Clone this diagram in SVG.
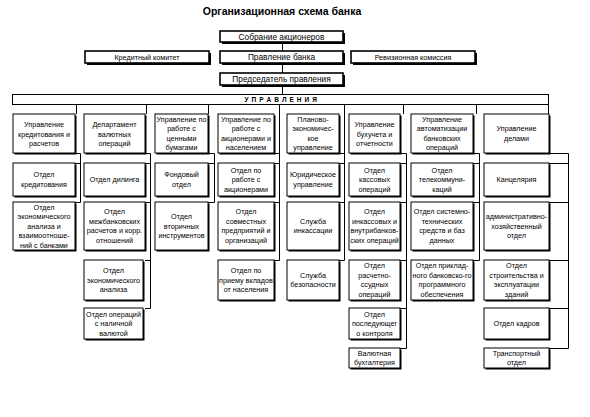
<svg xmlns="http://www.w3.org/2000/svg" width="590" height="417" viewBox="0 0 590 417">
<style>
text{font-family:"Liberation Sans",Arial,sans-serif;fill:#000;text-anchor:middle}
.t{font-size:10.5px;font-weight:bold}
.tb{font-size:8.3px}
.ts{font-size:7.2px}
.c{font-size:7.2px}
.u{font-size:6.5px;font-weight:bold;letter-spacing:0.6px}
.sh{fill:#000}
.bx{fill:#fff;stroke:#000;stroke-width:1}
.tbx{fill:#fff;stroke:#000;stroke-width:1.6}
.ln{fill:none;stroke:#000;stroke-width:1}
</style>
<rect width="590" height="417" fill="#fff"/>
<text class="t" x="282" y="15">Организационная схема банка</text>

<g id="connectors">
<path class="ln" d="M282.5 42 V51 M282.5 63 V73 M282.5 85 V94
M76.5 104 V114 M146.5 104 V114 M208.5 104 V114 M403.5 104 V114 M476.5 104 V114 M548.5 104 V114
M75 153.5 H80.5 V202.5 H75 M75 163.5 H80.5
M145 153.5 H150.5 V308.5 H145 M145 163.5 H150.5 M145 202.5 H150.5 M145 260.5 H150.5
M208 153.5 H214.5 V202.5 H208 M208 163.5 H214.5
M279.5 104 V260.5 H274 M274 153.5 H279.5 M274 163.5 H279.5 M274 202.5 H279.5
M344.5 104 V260.5 H339 M339 153.5 H344.5 M339 163.5 H344.5 M339 202.5 H344.5
M400 153.5 H406.5 V348.5 H400 M400 163.5 H406.5 M400 202.5 H406.5 M400 260.5 H406.5 M400 308.5 H406.5
M473 153.5 H479.5 V260.5 H473 M473 163.5 H479.5 M473 202.5 H479.5
M549 153.5 H568.5 V348.5 H549 M549 163.5 H568.5 M549 202.5 H568.5 M549 260.5 H568.5 M549 308.5 H568.5"/>
</g>

<g id="sobranie"><rect class="sh" x="222" y="33" width="123" height="11"/><rect class="tbx" x="220" y="31" width="123" height="11"/><text class="tb" x="281.5" y="39.8">Собрание акционеров</text></g>
<g id="kredkom"><rect class="sh" x="87" y="53" width="124" height="12"/><rect class="tbx" x="85" y="51" width="124" height="12"/><text class="ts" x="147" y="59.6">Кредитный комитет</text></g>
<g id="pravlenie"><rect class="sh" x="222" y="53" width="123" height="12"/><rect class="tbx" x="220" y="51" width="123" height="12"/><text class="tb" x="281.5" y="60.3">Правление банка</text></g>
<g id="revkom"><rect class="sh" x="353" y="53" width="124" height="12"/><rect class="tbx" x="351" y="51" width="124" height="12"/><text class="ts" x="413" y="59.6">Ревизионная комиссия</text></g>
<g id="predsedatel"><rect class="sh" x="222" y="75" width="123" height="12"/><rect class="tbx" x="220" y="73" width="123" height="12"/><text class="tb" x="281.5" y="82.3">Председатель правления</text></g>
<g id="upravleniya"><rect class="bx" x="12.5" y="94.5" width="536" height="10"/><text class="u" x="281" y="102">У П Р А В Л Е Н И Я</text></g>

<!-- Column A -->
<g id="a1"><rect class="sh" x="14.5" y="115.5" width="62" height="39"/><rect class="bx" x="13" y="114" width="62" height="39"/><text class="c"><tspan x="44" y="127">Управление</tspan><tspan x="44" y="136.5">кредитования и</tspan><tspan x="44" y="146">расчетов</tspan></text></g>
<g id="a2"><rect class="sh" x="14.5" y="164.5" width="62" height="33"/><rect class="bx" x="13" y="163" width="62" height="33"/><text class="c"><tspan x="44" y="177.3">Отдел</tspan><tspan x="44" y="186.8">кредитования</tspan></text></g>
<g id="a3"><rect class="sh" x="14.5" y="203.5" width="62" height="48"/><rect class="bx" x="13" y="202" width="62" height="48"/><text class="c"><tspan x="44" y="209.5">Отдел</tspan><tspan x="44" y="219">экономического</tspan><tspan x="44" y="228.5">анализа и</tspan><tspan x="44" y="238">взаимоотноше-</tspan><tspan x="44" y="247.5">ний с банками</tspan></text></g>

<!-- Column B -->
<g id="b1"><rect class="sh" x="85.5" y="115.5" width="61" height="39"/><rect class="bx" x="84" y="114" width="61" height="39"/><text class="c"><tspan x="114.5" y="127">Департамент</tspan><tspan x="114.5" y="136.5">валютных</tspan><tspan x="114.5" y="146">операций</tspan></text></g>
<g id="b2"><rect class="sh" x="85.5" y="164.5" width="61" height="33"/><rect class="bx" x="84" y="163" width="61" height="33"/><text class="c"><tspan x="114.5" y="182">Отдел дилинга</tspan></text></g>
<g id="b3"><rect class="sh" x="85.5" y="203.5" width="61" height="48"/><rect class="bx" x="84" y="202" width="61" height="48"/><text class="c"><tspan x="114.5" y="214.3">Отдел</tspan><tspan x="114.5" y="223.8">межбанковских</tspan><tspan x="114.5" y="233.3">расчетов и корр.</tspan><tspan x="114.5" y="242.8">отношений</tspan></text></g>
<g id="b4"><rect class="sh" x="85.5" y="261.5" width="59" height="40"/><rect class="bx" x="84" y="260" width="59" height="40"/><text class="c"><tspan x="113.5" y="273">Отдел</tspan><tspan x="113.5" y="282.5">экономического</tspan><tspan x="113.5" y="292">анализа</tspan></text></g>
<g id="b5"><rect class="sh" x="85.5" y="309.5" width="59" height="31"/><rect class="bx" x="84" y="308" width="59" height="31"/><text class="c"><tspan x="113.5" y="316.5">Отдел операций</tspan><tspan x="113.5" y="326">с наличной</tspan><tspan x="113.5" y="335.5">валютой</tspan></text></g>

<!-- Column C -->
<g id="c1"><rect class="sh" x="156.5" y="115.5" width="53" height="39"/><rect class="bx" x="155" y="114" width="53" height="39"/><text class="c"><tspan x="181.5" y="121.8">Управление по</tspan><tspan x="181.5" y="131.3">работе с</tspan><tspan x="181.5" y="140.8">ценными</tspan><tspan x="181.5" y="150.3">бумагами</tspan></text></g>
<g id="c2"><rect class="sh" x="156.5" y="164.5" width="53" height="33"/><rect class="bx" x="155" y="163" width="53" height="33"/><text class="c"><tspan x="181.5" y="177.3">Фондовый</tspan><tspan x="181.5" y="186.8">отдел</tspan></text></g>
<g id="c3"><rect class="sh" x="156.5" y="203.5" width="53" height="48"/><rect class="bx" x="155" y="202" width="53" height="48"/><text class="c"><tspan x="181.5" y="219">Отдел</tspan><tspan x="181.5" y="228.5">вторичных</tspan><tspan x="181.5" y="238">инструментов</tspan></text></g>

<!-- Column D -->
<g id="d1"><rect class="sh" x="219.5" y="115.5" width="56" height="39"/><rect class="bx" x="218" y="114" width="56" height="39"/><text class="c"><tspan x="246" y="121.8">Управление по</tspan><tspan x="246" y="131.3">работе с</tspan><tspan x="246" y="140.8">акционерами и</tspan><tspan x="246" y="150.3">населением</tspan></text></g>
<g id="d2"><rect class="sh" x="219.5" y="164.5" width="56" height="33"/><rect class="bx" x="218" y="163" width="56" height="33"/><text class="c"><tspan x="246" y="172.5">Отдел по</tspan><tspan x="246" y="182">работе с</tspan><tspan x="246" y="191.5">акционерами</tspan></text></g>
<g id="d3"><rect class="sh" x="219.5" y="203.5" width="56" height="48"/><rect class="bx" x="218" y="202" width="56" height="48"/><text class="c"><tspan x="246" y="214.3">Отдел</tspan><tspan x="246" y="223.8">совместных</tspan><tspan x="246" y="233.3">предприятий и</tspan><tspan x="246" y="242.8">организаций</tspan></text></g>
<g id="d4"><rect class="sh" x="219.5" y="261.5" width="56" height="40"/><rect class="bx" x="218" y="260" width="56" height="40"/><text class="c"><tspan x="246" y="273">Отдел по</tspan><tspan x="246" y="282.5">приему вкладов</tspan><tspan x="246" y="292">от населения</tspan></text></g>

<!-- Column E -->
<g id="e1"><rect class="sh" x="288.5" y="115.5" width="52" height="39"/><rect class="bx" x="287" y="114" width="52" height="39"/><text class="c"><tspan x="313" y="121.8">Планово-</tspan><tspan x="313" y="131.3">экономичес-</tspan><tspan x="313" y="140.8">кое</tspan><tspan x="313" y="150.3">управление</tspan></text></g>
<g id="e2"><rect class="sh" x="288.5" y="164.5" width="52" height="33"/><rect class="bx" x="287" y="163" width="52" height="33"/><text class="c"><tspan x="313" y="177.3">Юридическое</tspan><tspan x="313" y="186.8">управление</tspan></text></g>
<g id="e3"><rect class="sh" x="288.5" y="203.5" width="52" height="48"/><rect class="bx" x="287" y="202" width="52" height="48"/><text class="c"><tspan x="313" y="223.8">Служба</tspan><tspan x="313" y="233.3">инкассации</tspan></text></g>
<g id="e4"><rect class="sh" x="288.5" y="261.5" width="52" height="40"/><rect class="bx" x="287" y="260" width="52" height="40"/><text class="c"><tspan x="313" y="277.8">Служба</tspan><tspan x="313" y="287.3">безопасности</tspan></text></g>

<!-- Column F -->
<g id="f1"><rect class="sh" x="350.5" y="115.5" width="51" height="39"/><rect class="bx" x="349" y="114" width="51" height="39"/><text class="c"><tspan x="374.5" y="127">Управление</tspan><tspan x="374.5" y="136.5">бухучета и</tspan><tspan x="374.5" y="146">отчетности</tspan></text></g>
<g id="f2"><rect class="sh" x="350.5" y="164.5" width="51" height="33"/><rect class="bx" x="349" y="163" width="51" height="33"/><text class="c"><tspan x="374.5" y="172.5">Отдел</tspan><tspan x="374.5" y="182">кассовых</tspan><tspan x="374.5" y="191.5">операций</tspan></text></g>
<g id="f3"><rect class="sh" x="350.5" y="203.5" width="51" height="48"/><rect class="bx" x="349" y="202" width="51" height="48"/><text class="c"><tspan x="374.5" y="214.3">Отдел</tspan><tspan x="374.5" y="223.8">инкассовых и</tspan><tspan x="374.5" y="233.3">внутрибанков-</tspan><tspan x="374.5" y="242.8">ских операций</tspan></text></g>
<g id="f4"><rect class="sh" x="350.5" y="261.5" width="51" height="40"/><rect class="bx" x="349" y="260" width="51" height="40"/><text class="c"><tspan x="374.5" y="268.3">Отдел</tspan><tspan x="374.5" y="277.8">расчетно-</tspan><tspan x="374.5" y="287.3">ссудных</tspan><tspan x="374.5" y="296.8">операций</tspan></text></g>
<g id="f5"><rect class="sh" x="350.5" y="309.5" width="51" height="31"/><rect class="bx" x="349" y="308" width="51" height="31"/><text class="c"><tspan x="374.5" y="316.5">Отдел</tspan><tspan x="374.5" y="326">последующег</tspan><tspan x="374.5" y="335.5">о контроля</tspan></text></g>
<g id="f6"><rect class="sh" x="350.5" y="349.5" width="51" height="20"/><rect class="bx" x="349" y="348" width="51" height="20"/><text class="c"><tspan x="374.5" y="355.8">Валютная</tspan><tspan x="374.5" y="365.3">бухгалтерия</tspan></text></g>

<!-- Column G -->
<g id="g1"><rect class="sh" x="412.5" y="115.5" width="62" height="39"/><rect class="bx" x="411" y="114" width="62" height="39"/><text class="c"><tspan x="442" y="121.8">Управление</tspan><tspan x="442" y="131.3">автоматизации</tspan><tspan x="442" y="140.8">банковских</tspan><tspan x="442" y="150.3">операций</tspan></text></g>
<g id="g2"><rect class="sh" x="412.5" y="164.5" width="62" height="33"/><rect class="bx" x="411" y="163" width="62" height="33"/><text class="c"><tspan x="442" y="172.5">Отдел</tspan><tspan x="442" y="182">телекоммуни-</tspan><tspan x="442" y="191.5">каций</tspan></text></g>
<g id="g3"><rect class="sh" x="412.5" y="203.5" width="62" height="48"/><rect class="bx" x="411" y="202" width="62" height="48"/><text class="c"><tspan x="442" y="214.3">Отдел системно-</tspan><tspan x="442" y="223.8">технических</tspan><tspan x="442" y="233.3">средств и баз</tspan><tspan x="442" y="242.8">данных</tspan></text></g>
<g id="g4"><rect class="sh" x="412.5" y="261.5" width="62" height="40"/><rect class="bx" x="411" y="260" width="62" height="40"/><text class="c"><tspan x="442" y="268.3">Отдел приклад-</tspan><tspan x="442" y="277.8">ного банковско-го</tspan><tspan x="442" y="287.3">программного</tspan><tspan x="442" y="296.8">обеспечения</tspan></text></g>

<!-- Column H -->
<g id="h1"><rect class="sh" x="485.5" y="115.5" width="65" height="39"/><rect class="bx" x="484" y="114" width="65" height="39"/><text class="c"><tspan x="516.5" y="131.3">Управление</tspan><tspan x="516.5" y="140.8">делами</tspan></text></g>
<g id="h2"><rect class="sh" x="485.5" y="164.5" width="65" height="33"/><rect class="bx" x="484" y="163" width="65" height="33"/><text class="c"><tspan x="516.5" y="182">Канцелярия</tspan></text></g>
<g id="h3"><rect class="sh" x="485.5" y="203.5" width="65" height="48"/><rect class="bx" x="484" y="202" width="65" height="48"/><text class="c"><tspan x="516.5" y="219">административно-</tspan><tspan x="516.5" y="228.5">хозяйственный</tspan><tspan x="516.5" y="238">отдел</tspan></text></g>
<g id="h4"><rect class="sh" x="485.5" y="261.5" width="65" height="40"/><rect class="bx" x="484" y="260" width="65" height="40"/><text class="c"><tspan x="516.5" y="268.3">Отдел</tspan><tspan x="516.5" y="277.8">строительства и</tspan><tspan x="516.5" y="287.3">эксплуатации</tspan><tspan x="516.5" y="296.8">зданий</tspan></text></g>
<g id="h5"><rect class="sh" x="485.5" y="309.5" width="65" height="31"/><rect class="bx" x="484" y="308" width="65" height="31"/><text class="c"><tspan x="516.5" y="326">Отдел кадров</tspan></text></g>
<g id="h6"><rect class="sh" x="485.5" y="349.5" width="65" height="20"/><rect class="bx" x="484" y="348" width="65" height="20"/><text class="c"><tspan x="516.5" y="355.8">Транспортный</tspan><tspan x="516.5" y="365.3">отдел</tspan></text></g>
</svg>
